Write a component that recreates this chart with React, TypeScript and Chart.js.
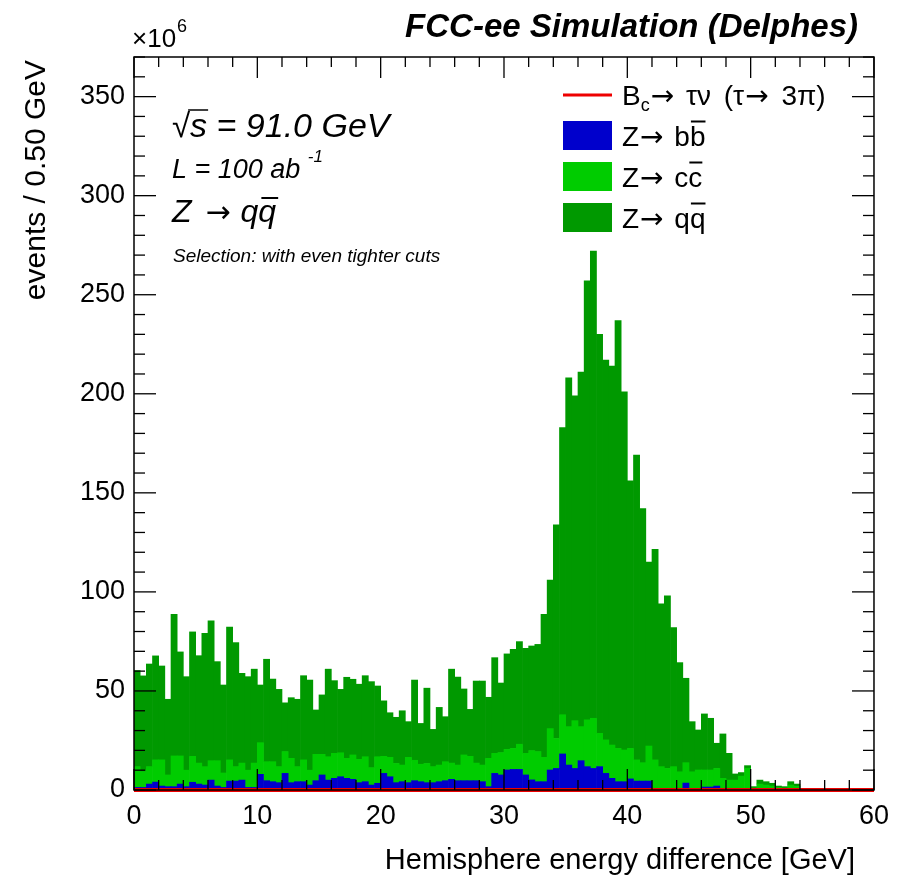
import React, { useEffect, useRef } from "react";
import { Chart, registerables } from "chart.js";

Chart.register(...registerables);

// ---- Data (units of 10^6 events per 0.5 GeV bin) ----
const BIN_WIDTH = 0.5;
const X_MIN = 0;
const X_MAX = 60;
const Y_MIN = 0;
const Y_MAX = 370;

const xTickLabels = ["0", "10", "20", "30", "40", "50", "60"];
const yTickLabels = ["0", "50", "100", "150", "200", "250", "300", "350"];

// Z -> b bbar (bottom of stack)
const zbbValues = [
  1.3, 1.3, 3.0, 4.0, 2.0, 1.7, 1.7, 3.0, 1.7, 3.9,
  3.0, 2.5, 5.0, 2.0, 1.3, 4.5, 4.5, 5.0, 1.3, 1.3,
  7.9, 4.7, 4.2, 3.7, 8.4, 3.7, 4.2, 4.2, 2.5, 4.7,
  7.6, 5.0, 5.9, 6.7, 5.9, 5.4, 3.7, 4.2, 2.5, 3.4,
  8.4, 6.7, 3.7, 4.2, 3.7, 4.7, 4.2, 3.7, 3.7, 4.2,
  4.7, 5.4, 4.7, 4.7, 4.7, 4.7, 4.2, 1.7, 8.4, 7.6,
  10.1, 10.4, 10.4, 7.6, 5.1, 4.2, 4.2, 10.1, 10.9, 18.2,
  12.6, 10.9, 14.8, 11.8, 10.9, 11.8, 8.4, 5.9, 4.2, 4.2,
  5.6, 4.5, 4.5, 4.5, 0.3, 0, 0, 0, 0, 3.5,
  0, 0, 1.5, 1.5, 2.0, 0, 0, 0, 0, 0,
  0, 0, 0, 0, 0, 0, 0, 0, 0, 0,
  0, 0, 0, 0, 0, 0, 0, 0, 0, 0,
];

// Z -> c cbar (middle of stack)
const zccValues = [
  10.5, 8.0, 8.8, 11.2, 13.2, 5.9, 15.5, 14.2, 8.3, 13.1,
  10.6, 9.3, 9.8, 12.8, 7.3, 10.7, 7.3, 8.6, 8.7, 12.3,
  16.0, 9.6, 10.1, 8.1, 11.0, 12.3, 7.6, 11.0, 7.5, 13.3,
  10.4, 11.8, 12.6, 12.1, 10.1, 12.3, 11.8, 12.6, 8.8, 13.4,
  8.6, 9.8, 9.7, 8.4, 12.8, 10.3, 8.8, 9.7, 8.1, 8.4,
  9.6, 8.2, 7.9, 13.0, 12.3, 8.9, 8.4, 14.3, 10.1, 11.3,
  10.4, 10.6, 12.7, 10.9, 14.8, 15.2, 12.3, 20.9, 15.1, 19.8,
  19.4, 24.1, 17.2, 23.6, 25.3, 16.8, 16.9, 16.8, 16.8, 16.0,
  15.4, 10.7, 9.3, 17.7, 14.9, 11.8, 10.9, 11.8, 9.2, 10.3,
  9.2, 10.1, 8.6, 8.6, 8.9, 5.9, 5.0, 5.0, 7.0, 11.0,
  1.0, 3.0, 2.5, 2.0, 1.2, 1.0, 2.5, 1.8, 0, 0,
  0, 0, 0, 0, 0, 0, 0, 0, 0, 0,
];

// Z -> q qbar (light quarks, top of stack)
const zqqValues = [
  48.5, 48.3, 51.8, 52.5, 47.4, 38.2, 71.5, 52.5, 47.2, 62.8,
  54.2, 67.3, 70.6, 50.0, 44.4, 67.0, 62.6, 45.3, 47.2, 47.4,
  29.1, 51.7, 41.7, 39.0, 24.6, 30.6, 34.0, 42.5, 45.5, 22.4,
  30.0, 44.2, 36.7, 32.0, 40.9, 38.2, 37.9, 40.9, 43.4, 35.7,
  28.0, 22.5, 23.3, 27.4, 18.0, 40.5, 20.6, 38.0, 18.8, 29.1,
  22.7, 47.4, 44.4, 33.3, 23.7, 41.4, 42.4, 30.8, 48.3, 35.1,
  48.2, 50.0, 51.8, 53.0, 52.8, 54.1, 72.2, 75.0, 107.8, 145.0,
  176.0, 164.0, 179.0, 221.6, 235.8, 201.4, 191.7, 191.3, 216.0, 180.8,
  135.0, 153.8, 128.2, 92.8, 106.3, 82.2, 87.1, 70.2, 55.1, 42.6,
  25.3, 20.2, 28.3, 26.1, 12.7, 22.4, 13.5, 3.1, 1.8, 1.3,
  0.7, 2.0, 1.7, 1.4, 0.8, 0.7, 1.7, 1.2, 0, 0,
  0, 0, 0, 0, 0, 0, 0, 0, 0, 0,
];

// B_c -> tau nu signal (invisible on this scale)
const bcSignalValues = [
  0, 0, 0, 0, 0, 0, 0, 0, 0, 0, 0, 0, 0, 0, 0, 0, 0, 0, 0, 0,
  0, 0, 0, 0, 0, 0, 0, 0, 0, 0, 0, 0, 0, 0, 0, 0, 0, 0, 0, 0,
  0, 0, 0, 0, 0, 0, 0, 0, 0, 0, 0, 0, 0, 0, 0, 0, 0, 0, 0, 0,
  0, 0, 0, 0, 0, 0, 0, 0, 0, 0, 0, 0, 0, 0, 0, 0, 0, 0, 0, 0,
  0, 0, 0, 0, 0, 0, 0, 0, 0, 0, 0, 0, 0, 0, 0, 0, 0, 0, 0, 0,
  0, 0, 0, 0, 0, 0, 0, 0, 0, 0, 0, 0, 0, 0, 0, 0, 0, 0, 0, 0,
];

const COLORS = {
  bb: "#0000cc",
  cc: "#00cc00",
  qq: "#009900",
  bc: "#ee0000",
};

const FONT = '"Liberation Sans", Arial, Helvetica, sans-serif';
const SYM = '"DejaVu Sans", "Liberation Sans", sans-serif';

function binCenters(n: number) {
  return Array.from({ length: n }, (_, i) => X_MIN + BIN_WIDTH * (i + 0.5));
}

const decorPlugin = {
  id: "rootDecor",
  afterDraw(chart: any) {
    const ctx: CanvasRenderingContext2D = chart.ctx;
    const { left, right, top, bottom } = chart.chartArea;
    const xs = chart.scales.x;
    const ys = chart.scales.y;
    ctx.save();

    // frame
    ctx.strokeStyle = "#000";
    ctx.lineWidth = 1.5;
    ctx.strokeRect(left, top, right - left, bottom - top);

    const seg = (x1: number, y1: number, x2: number, y2: number) => {
      ctx.beginPath();
      ctx.moveTo(x1, y1);
      ctx.lineTo(x2, y2);
      ctx.stroke();
    };
    ctx.lineWidth = 1.3;
    // x ticks (inward, bottom and top)
    for (let v = X_MIN; v <= X_MAX + 1e-9; v += 2) {
      const px = xs.getPixelForValue(v);
      const len = Math.abs(v % 10) < 1e-9 ? 21 : 10;
      seg(px, bottom, px, bottom - len);
      seg(px, top, px, top + len);
    }
    // y ticks (inward, left and right)
    for (let v = Y_MIN; v <= Y_MAX + 1e-9; v += 10) {
      const py = ys.getPixelForValue(v);
      const len = Math.abs(v % 50) < 1e-9 ? 22 : 11;
      seg(left, py, left + len, py);
      seg(right, py, right - len, py);
    }

    ctx.fillStyle = "#000";
    ctx.textBaseline = "alphabetic";

    // header
    ctx.font = `italic bold 33px ${FONT}`;
    ctx.textAlign = "right";
    ctx.fillText("FCC-ee Simulation (Delphes)", 858, 37);

    // x10^6
    ctx.textAlign = "left";
    ctx.font = `26px ${FONT}`;
    ctx.fillText("\u00d710", 132, 47);
    const w10 = ctx.measureText("\u00d710").width;
    ctx.font = `18px ${FONT}`;
    ctx.fillText("6", 132 + w10 + 1, 32);

    // axis titles
    ctx.font = `29px ${FONT}`;
    ctx.textAlign = "right";
    ctx.fillText("Hemisphere energy difference [GeV]", 855, 869);
    ctx.save();
    ctx.font = `30px ${FONT}`;
    ctx.translate(45, 60);
    ctx.rotate(-Math.PI / 2);
    ctx.textAlign = "right";
    ctx.fillText("events / 0.50 GeV", 0, 0);
    ctx.restore();

    // annotation texts
    ctx.textAlign = "left";
    // sqrt(s) = 91.0 GeV
    ctx.font = `33px ${FONT}`;
    const sx = 172;
    const sb = 137;
    ctx.fillText("\u221a", sx, sb);
    const wr = ctx.measureText("\u221a").width;
    ctx.font = `italic 34px ${FONT}`;
    ctx.fillText("s = 91.0 GeV", sx + wr, sb);
    const ws = ctx.measureText("s").width;
    ctx.lineWidth = 1.5;
    seg(sx + wr - 2, sb - 27, sx + wr + ws + 1, sb - 27);

    // L = 100 ab^-1
    ctx.font = `italic 27px ${FONT}`;
    ctx.fillText("L = 100 ab", 172, 178);
    const wl = ctx.measureText("L = 100 ab ").width;
    ctx.font = `italic 17px ${FONT}`;
    ctx.fillText("-1", 172 + wl, 162);

    // Z -> q qbar
    ctx.font = `italic 32px ${FONT}`;
    ctx.fillText("Z", 172, 222);
    const wZ = ctx.measureText("Z ").width;
    ctx.font = `30px ${SYM}`;
    ctx.fillText("\u2192", 172 + wZ + 5, 222);
    const wA = ctx.measureText("\u2192").width;
    ctx.font = `italic 32px ${FONT}`;
    const qx = 172 + wZ + 5 + wA + 10;
    ctx.fillText("q", qx, 222);
    const wq = ctx.measureText("q").width;
    ctx.fillText("q", qx + wq, 222);
    ctx.lineWidth = 2;
    seg(qx + wq + 3, 198, qx + 2 * wq + 2, 198);

    // selection
    ctx.font = `italic 19px ${FONT}`;
    ctx.fillText("Selection: with even tighter cuts", 173, 262);

    // legend
    const lx = 563;
    const lw = 49;
    const tx = 622;
    const rows = [95, 135.5, 176.5, 217.5];
    ctx.strokeStyle = COLORS.bc;
    ctx.lineWidth = 3;
    seg(lx, rows[0], lx + lw, rows[0]);
    ctx.strokeStyle = "#000";
    const boxes = [COLORS.bb, COLORS.cc, COLORS.qq];
    boxes.forEach((c, i) => {
      ctx.fillStyle = c;
      ctx.fillRect(lx, rows[i + 1] - 14.5, lw, 29);
    });
    ctx.fillStyle = "#000";

    const LF = `28px ${FONT}`;
    const AF = `28px ${SYM}`;
    const put = (text: string, x: number, y: number, font: string) => {
      ctx.font = font;
      ctx.fillText(text, x, y);
      return x + ctx.measureText(text).width;
    };
    // B_c -> tau nu (tau -> 3 pi)
    let cx = tx;
    const y0 = rows[0] + 10;
    cx = put("B", cx, y0, LF);
    cx = put("c", cx, y0 + 6, `18px ${FONT}`);
    cx = put("\u2192", cx + 1, y0, AF);
    cx = put(" \u03c4\u03bd", cx + 4, y0, LF);
    cx = put(" (\u03c4", cx + 5, y0, LF);
    cx = put("\u2192", cx + 1, y0, AF);
    cx = put(" 3\u03c0)", cx + 5, y0, LF);

    const flav = ["b", "c", "q"];
    flav.forEach((f, i) => {
      const y = rows[i + 1] + 10;
      let px = put("Z", tx, y, LF);
      px = put("\u2192", px + 1, y, AF);
      px = put(" " + f, px + 3, y, LF);
      const bx = px;
      px = put(f, px, y, LF);
      ctx.lineWidth = 2;
      seg(bx + 1, y - 24, px, y - 24);
    });

    ctx.restore();
  },
};

export default function App() {
  const canvasRef = useRef<HTMLCanvasElement | null>(null);

  useEffect(() => {
    document.body.style.margin = "0";
    const canvas = canvasRef.current;
    if (!canvas) return;
    const centers = binCenters(zqqValues.length);
    const toPts = (vals: number[]) => vals.map((v, i) => ({ x: centers[i], y: v }));
    const sigPts = bcSignalValues.map((v, i) => ({ x: X_MIN + BIN_WIDTH * i, y: v }));
    sigPts.push({ x: X_MAX, y: bcSignalValues[bcSignalValues.length - 1] });

    const barCommon = {
      type: "bar" as const,
      borderWidth: 0,
      barPercentage: 1.0,
      categoryPercentage: 1.0,
      stack: "bkg",
    };

    const chart = new Chart(canvas, {
      type: "bar",
      data: {
        datasets: [
          {
            type: "line",
            label: "Bc -> tau nu (tau -> 3pi)",
            data: sigPts,
            borderColor: COLORS.bc,
            borderWidth: 4,
            pointRadius: 0,
            stepped: true,
            fill: false,
            stack: "sig",
            order: -1,
            clip: false,
          } as any,
          { ...barCommon, label: "Z -> b bbar", data: toPts(zbbValues), backgroundColor: COLORS.bb },
          { ...barCommon, label: "Z -> c cbar", data: toPts(zccValues), backgroundColor: COLORS.cc },
          { ...barCommon, label: "Z -> q qbar", data: toPts(zqqValues), backgroundColor: COLORS.qq },
        ],
      },
      options: {
        responsive: false,
        animation: false,
        devicePixelRatio: 1,
        layout: { padding: { left: 0, right: 21, top: 57, bottom: 0 } },
        plugins: {
          legend: { display: false },
          tooltip: { enabled: false },
        },
        scales: {
          x: {
            type: "linear",
            min: X_MIN,
            max: X_MAX,
            stacked: true,
            offset: false,
            grid: { display: false, drawTicks: false },
            border: { display: false },
            ticks: {
              stepSize: 10,
              autoSkip: false,
              maxRotation: 0,
              padding: 10,
              color: "#000",
              font: { family: FONT, size: 27 },
              callback: (v: any) => (xTickLabels.includes(String(v)) ? String(v) : ""),
            },
            afterFit: (s: any) => {
              s.height = 88;
            },
          },
          y: {
            type: "linear",
            min: Y_MIN,
            max: Y_MAX,
            stacked: true,
            grid: { display: false, drawTicks: false },
            border: { display: false },
            ticks: {
              stepSize: 50,
              includeBounds: false,
              padding: 9,
              color: "#000",
              font: { family: FONT, size: 27 },
              callback: (v: any) => (yTickLabels.includes(String(v)) ? String(v) : ""),
            },
            afterFit: (s: any) => {
              s.width = 134;
            },
          },
        },
      } as any,
      plugins: [decorPlugin],
    });
    return () => chart.destroy();
  }, []);

  return (
    <div style={{ width: 899, height: 878, background: "#fff" }}>
      <canvas ref={canvasRef} width={899} height={878} style={{ display: "block" }} />
    </div>
  );
}
